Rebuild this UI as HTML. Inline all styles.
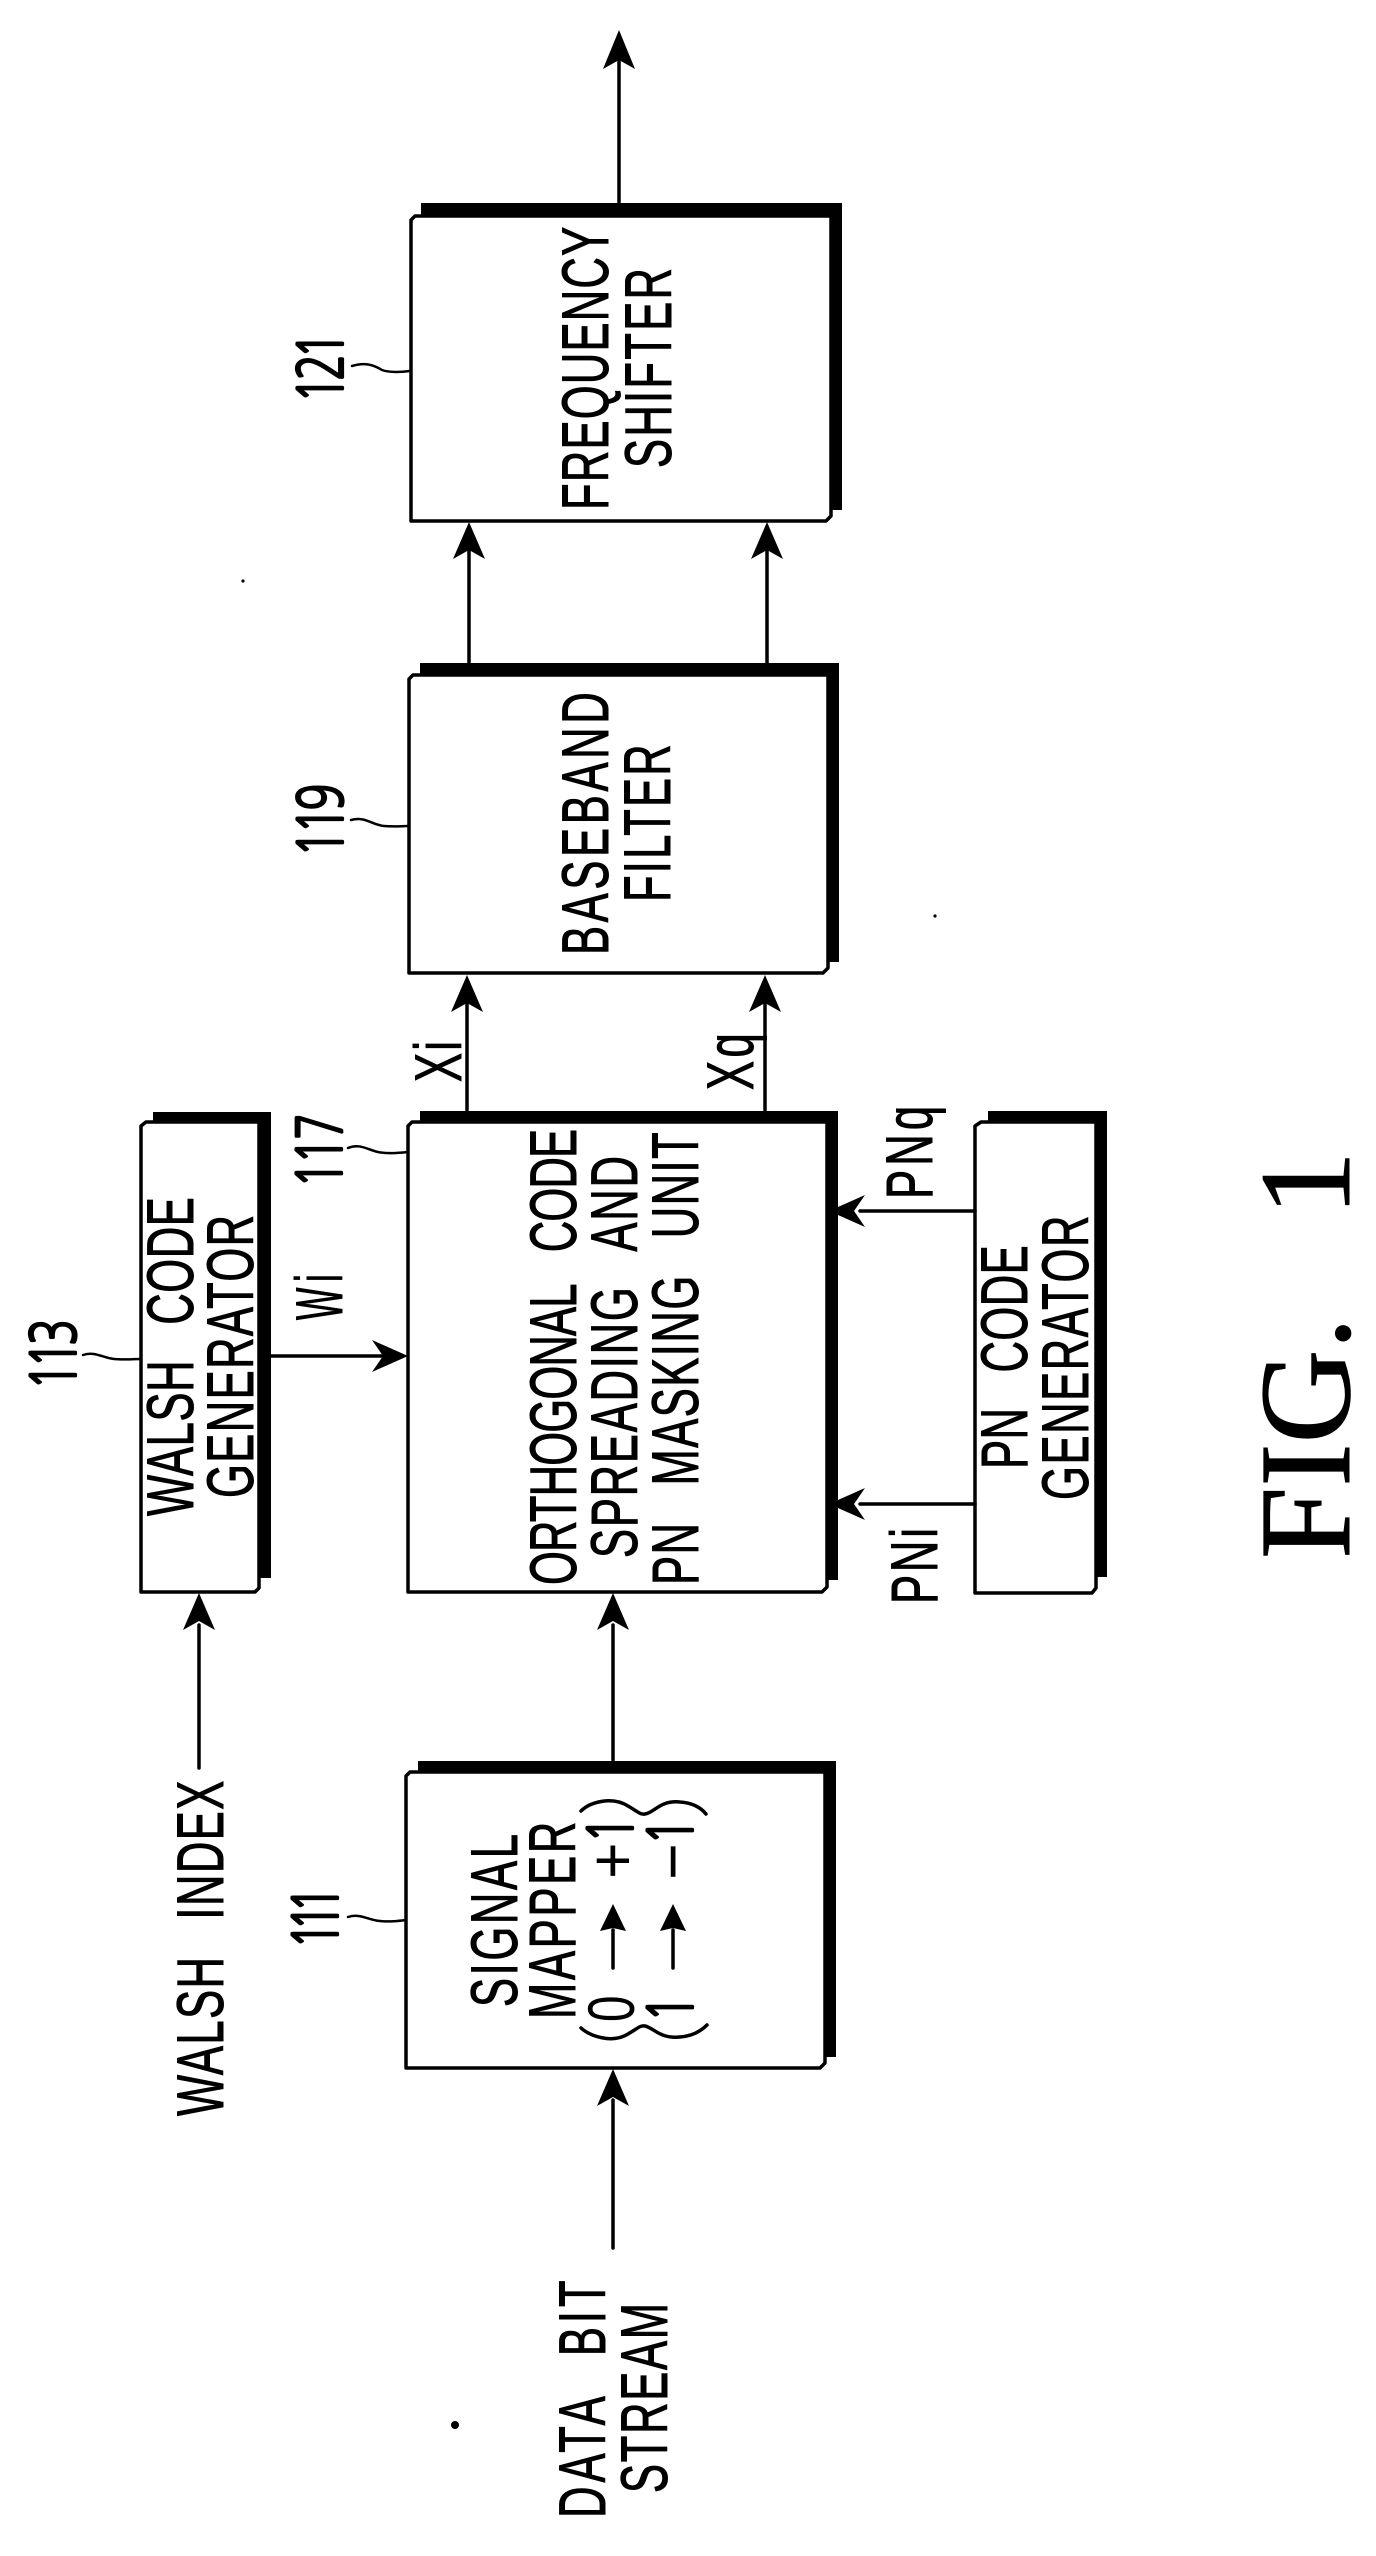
<!DOCTYPE html>
<html><head><meta charset="utf-8"><style>
html,body{margin:0;padding:0;background:#fff}
svg{display:block}
text{font-family:"Liberation Sans",sans-serif;font-size:66px;fill:#000;stroke:#000;stroke-width:1px;word-spacing:34px}
.n{font-family:"NanumGothic","Liberation Sans",sans-serif;font-size:62px;stroke-width:2.2px}
.s{font-family:"Liberation Serif",serif;font-size:130px;stroke-width:1px;word-spacing:0}
.p{stroke-width:0}
.b{fill:#fff;stroke:#000;stroke-width:3.5;stroke-linejoin:round}
.l{fill:none;stroke:#000;stroke-width:3.5;stroke-linecap:round}
.t{fill:none;stroke:#000;stroke-width:2.5;stroke-linecap:round}
</style></head><body>
<svg width="1376" height="2556" viewBox="0 0 1376 2556" xmlns="http://www.w3.org/2000/svg">
<rect width="1376" height="2556" fill="#fff"/>
<!-- shadows -->
<g fill="#000">
<path d="M421 203H842V510H831V217H421Z"/>
<path d="M420 663H839V962H828V675H420Z"/>
<path d="M420 1111H838V1580H827V1122H420Z"/>
<path d="M153 1112H271V1578H259V1122H153Z"/>
<path d="M988 1111H1107V1577H1096V1122H988Z"/>
<path d="M418 1761H836V2057H825V1772H418Z"/>
</g>
<!-- boxes -->
<path class="b" d="M415 216H831V516L826 521H411V220Z"/>
<path class="b" d="M413 675H828V968L823 973H409V679Z"/>
<path class="b" d="M412 1122H827V1587L822 1592H408V1126Z"/>
<path class="b" d="M146 1122H259V1588L255 1592H141V1126Z"/>
<path class="b" d="M981 1122H1096V1588L1092 1593H975V1126Z"/>
<path class="b" d="M410 1772H825V2063L820 2068H406V1776Z"/>
<!-- connectors -->
<g class="l">
<path d="M619 203V60"/>
<path d="M469 663V550M767 663V550"/>
<path d="M467 1110V1000M765 1110V1000"/>
<path d="M271 1356H390"/>
<path d="M975 1211H860M975 1504H860"/>
<path d="M613 1760V1625"/>
<path d="M613 2248V2100"/>
<path d="M199 1768V1625"/>
</g>
<!-- arrowheads -->
<g fill="#000">
<path d="M619 30L635 69L619 60L603 69Z"/>
<path d="M469 522L485 559L469 550L453 559Z"/>
<path d="M767 522L783 559L767 550L751 559Z"/>
<path d="M467 975L483 1012L467 1003L451 1012Z"/>
<path d="M765 975L781 1012L765 1003L749 1012Z"/>
<path d="M408 1356L372 1340L383 1356L372 1372Z"/>
<path d="M829 1211L865 1195L854 1211L865 1227Z"/>
<path d="M829 1504L865 1488L854 1504L865 1520Z"/>
<path d="M613 1593L629 1630L613 1621L597 1630Z"/>
<path d="M613 2069L629 2106L613 2097L597 2106Z"/>
<path d="M199 1593L215 1630L199 1621L183 1630Z"/>
<path d="M613 1904L626 1931L613 1928L600 1931Z"/>
<path d="M673 1904L686 1931L673 1928L660 1931Z"/>
</g>
<!-- leaders -->
<g class="t">
<path d="M352 366C365 362 374 365 382 370C390 373 402 372 410 371"/>
<path d="M351 820C365 816 372 825 384 826C394 827 402 826 409 826"/>
<path d="M348 1148C360 1143 368 1150 378 1152C388 1154 398 1153 408 1152"/>
<path d="M83 1355C95 1351 103 1358 114 1359C124 1360 132 1359 141 1359"/>
<path d="M348 1917C360 1913 368 1920 380 1921C390 1922 398 1921 406 1920"/>
</g>
<!-- signal mapper glyphs -->
<path class="l" d="M613 1968V1930M673 1968V1930"/>
<path class="l" d="M581 1811C590 1802 612 1796 628 1806C637 1811 640 1815 645 1814C654 1813 660 1800 680 1802C694 1803 702 1809 706 1814"/>
<path class="l" d="M581 2028C590 2036 612 2044 628 2034C637 2029 640 2025 645 2026C654 2028 660 2039 680 2037C694 2036 702 2030 707 2025"/>
<!-- labels -->
<text transform="translate(608 510) rotate(-90) scale(.66 1)" textLength="429">FREQUENCY</text>
<text transform="translate(671 468) rotate(-90) scale(.66 1)" textLength="303">SHIFTER</text>
<text transform="translate(608 955) rotate(-90) scale(.66 1)" textLength="398">BASEBAND</text>
<text transform="translate(670 902) rotate(-90) scale(.66 1)" textLength="239">FILTER</text>
<text class="n" transform="translate(343 403) rotate(-90) scale(.72 1)" textLength="99">121</text>
<text class="n" transform="translate(343 857) rotate(-90) scale(.72 1)" textLength="102">119</text>
<text class="n" transform="translate(342 1188) rotate(-90) scale(.72 1)" textLength="104">117</text>
<text class="n" transform="translate(76 1390) rotate(-90) scale(.72 1)" textLength="99">113</text>
<text class="n" transform="translate(338 1949) rotate(-90) scale(.72 1)" textLength="88">111</text>
<text transform="translate(461 1082) rotate(-90) scale(.66 1)" textLength="62">Xi</text>
<text transform="translate(753 1090) rotate(-90) scale(.66 1)" textLength="86">Xq</text>
<text transform="translate(932 1199) rotate(-90) scale(.66 1)" textLength="141">PNq</text>
<text transform="translate(937 1604) rotate(-90) scale(.66 1)" textLength="115">PNi</text>
<text transform="translate(342 1320) rotate(-90) scale(.52 1)" textLength="88">Wi</text>
<text transform="translate(193 1516) rotate(-90) scale(.66 1)" textLength="483">WALSH CODE</text>
<text transform="translate(253 1498) rotate(-90) scale(.66 1)" textLength="429">GENERATOR</text>
<text transform="translate(576 1585) rotate(-90) scale(.66 1)" textLength="691">ORTHOGONAL CODE</text>
<text transform="translate(637 1558) rotate(-90) scale(.66 1)" textLength="609">SPREADING AND</text>
<text transform="translate(698 1585) rotate(-90) scale(.66 1)" textLength="686">PN MASKING UNIT</text>
<text transform="translate(1027 1469) rotate(-90) scale(.66 1)" textLength="339">PN CODE</text>
<text transform="translate(1088 1500) rotate(-90) scale(.66 1)" textLength="431">GENERATOR</text>
<text transform="translate(223 2116) rotate(-90) scale(.66 1)" textLength="508">WALSH INDEX</text>
<text transform="translate(517 2007) rotate(-90) scale(.66 1)" textLength="262">SIGNAL</text>
<text transform="translate(575 2019) rotate(-90) scale(.66 1)" textLength="299">MAPPER</text>
<text class="p" transform="translate(634 2022) rotate(-90) scale(.72 1)">0</text>
<text class="p" transform="translate(635 1879) rotate(-90) scale(.95 1)">+</text>
<text class="n" transform="translate(633 1843) rotate(-90) scale(.72 1)">1</text>
<text class="p" transform="translate(695 1880) rotate(-90) scale(.95 1)">−</text>
<text class="n" transform="translate(693 1845) rotate(-90) scale(.72 1)">1</text>
<text class="n" transform="translate(693 2022) rotate(-90) scale(.72 1)">1</text>
<text transform="translate(605 2518) rotate(-90) scale(.66 1)" textLength="360">DATA BIT</text>
<text transform="translate(667 2493) rotate(-90) scale(.66 1)" textLength="288">STREAM</text>
<text class="s" transform="translate(1349 1559) rotate(-90)">FIG.</text>
<text class="s" transform="translate(1349 1216) rotate(-90)">1</text>
<!-- specks -->
<circle cx="243" cy="581" r="1.6" fill="#000"/>
<circle cx="935" cy="916" r="1.6" fill="#000"/>
<circle cx="455" cy="2425" r="4" fill="#000"/>
</svg>
</body></html>
